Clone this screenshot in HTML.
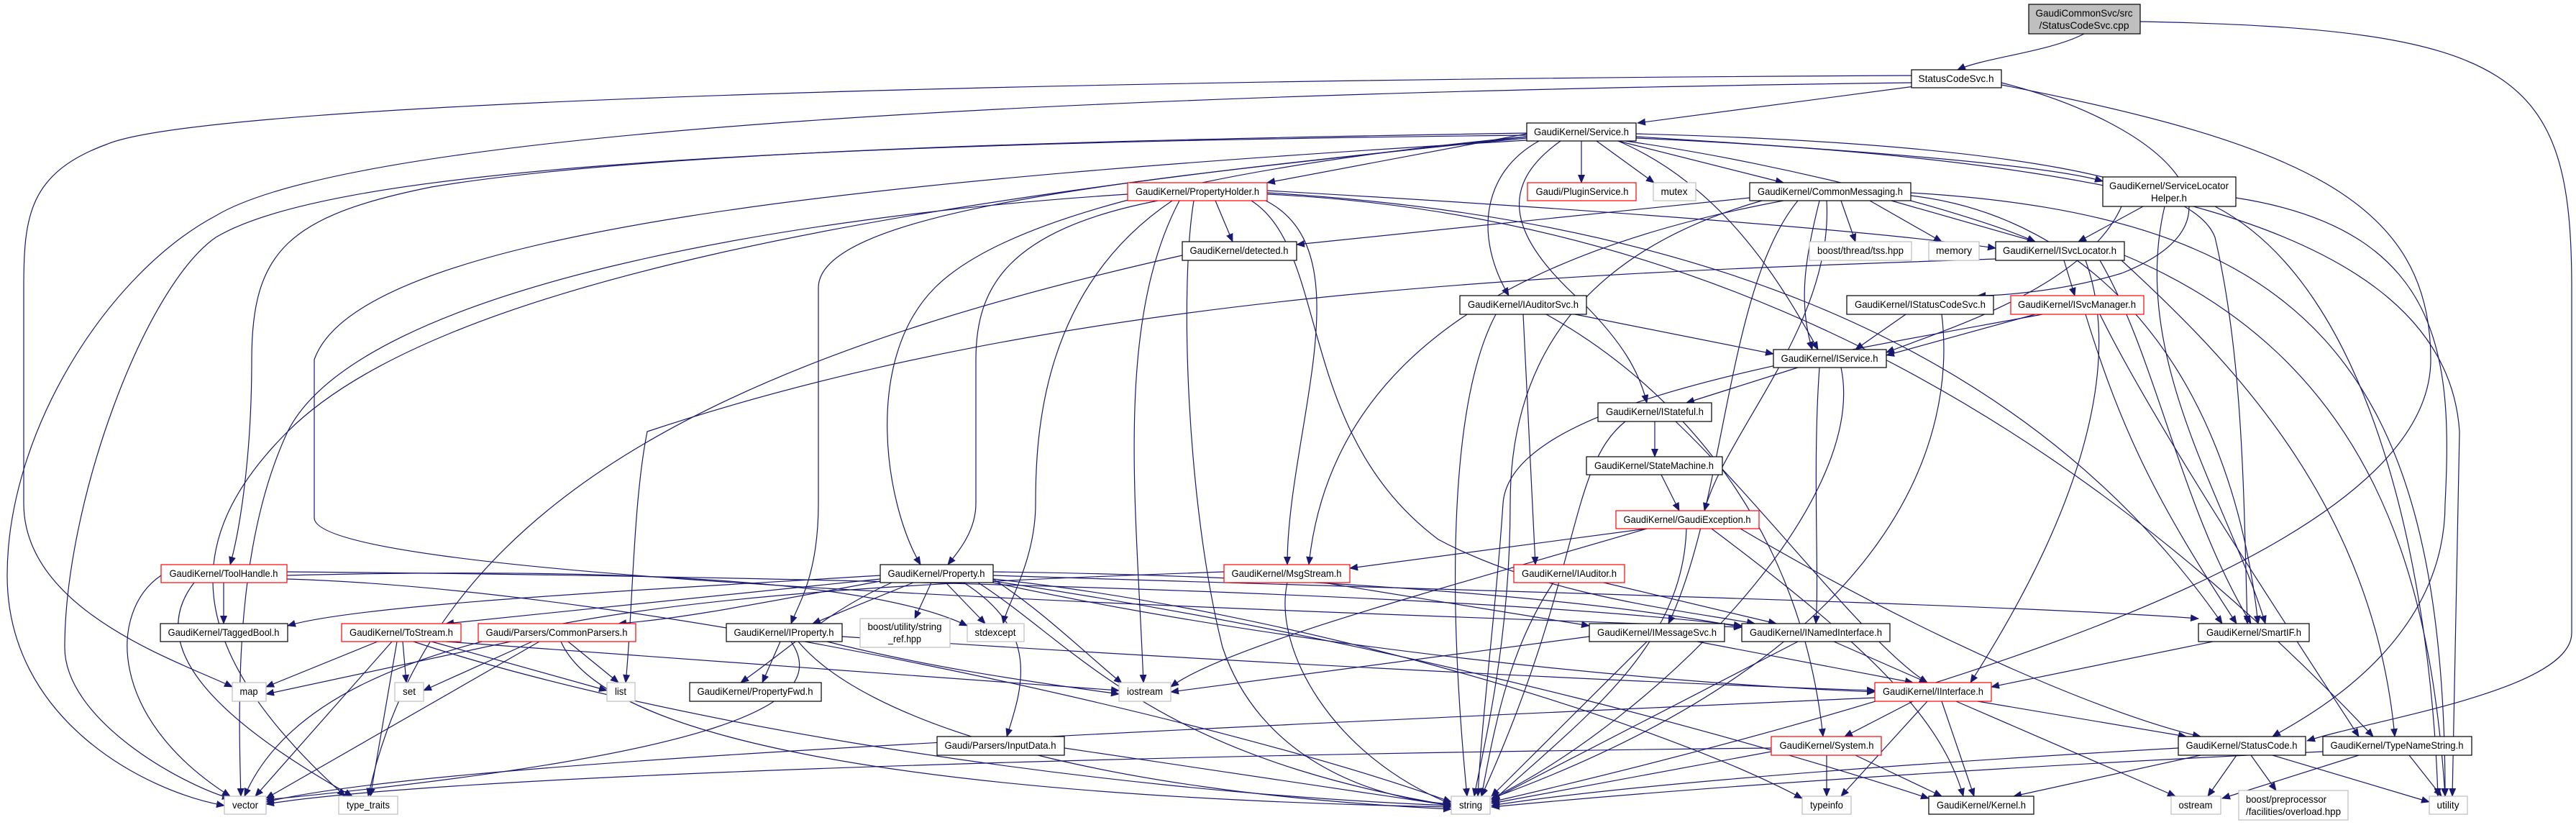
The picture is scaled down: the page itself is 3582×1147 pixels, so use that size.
<!DOCTYPE html>
<html><head><meta charset="utf-8"><style>
html,body{margin:0;padding:0;background:#fff}
svg{display:block}
text{font-family:"Liberation Sans",sans-serif;font-size:14px;fill:#000}
.e path{fill:none;stroke:#191970;stroke-width:1.2}
.n{fill:#fff;stroke:#000;stroke-width:1.2}
.r{fill:#fff;stroke:#f00;stroke-width:1.2}
.g{fill:#fff;stroke:#bfbfbf;stroke-width:1.2}
</style></head><body>
<svg width="3582" height="1147" viewBox="0 0 3582 1147" xmlns="http://www.w3.org/2000/svg">
<defs><marker id="a" markerUnits="userSpaceOnUse" markerWidth="12" markerHeight="10" refX="11" refY="5" orient="auto"><path d="M0,0 L12,5 L0,10 z" fill="#191970"/></marker></defs>
<g class="e" marker-end="url(#a)">
<path marker-end="url(#a)" d="M2898 47 C2850 72 2760 80 2722 97"/>
<path marker-end="url(#a)" d="M2976 30 C3500 40 3576 100 3576 400 L3576 880 C3576 960 3300 1000 3208 1030"/>
<path marker-end="url(#a)" d="M2670 119 L2277 171"/>
<path marker-end="url(#a)" d="M2658 105 C1500 110 300 140 150 200 C40 240 33 300 33 400 L33 700 C33 850 250 920 323 955"/>
<path marker-end="url(#a)" d="M2658 115 C1500 130 500 180 300 300 C150 380 10 600 10 800 C10 1000 200 1100 312 1120"/>
<path marker-end="url(#a)" d="M2783 115 C3000 170 3150 300 2950 380 C2850 410 2760 411 2750 411"/>
<path marker-end="url(#a)" d="M2783 118 C3200 200 3380 280 3380 500 C3380 700 3000 900 2074 1115"/>
<path marker-end="url(#a)" d="M2199 196 L2199 254"/>
<path marker-end="url(#a)" d="M2220 196 L2300 254"/>
<path marker-end="url(#a)" d="M2250 196 L2480 254"/>
<path marker-end="url(#a)" d="M2275 190 C2600 210 2850 230 2924 252"/>
<path marker-end="url(#a)" d="M2260 196 C2500 230 2750 300 2830 336"/>
<path marker-end="url(#a)" d="M2140 196 C2060 240 2050 330 2098 411"/>
<path marker-end="url(#a)" d="M2250 196 C2400 260 2480 400 2528 486"/>
<path marker-end="url(#a)" d="M2170 196 C2080 260 2100 330 2200 420 C2260 480 2280 520 2290 560"/>
<path marker-end="url(#a)" d="M2123 186 L1762 254"/>
<path marker-end="url(#a)" d="M2123 190 C1700 230 1400 300 1300 400 C1200 500 1230 700 1280 785"/>
<path marker-end="url(#a)" d="M2123 185 C1500 195 900 210 600 260 C400 300 350 350 350 500 C350 650 330 750 320 785"/>
<path marker-end="url(#a)" d="M2123 190 C1700 240 1138 280 1138 400 L1138 700 C1138 800 1110 840 1100 867"/>
<path marker-end="url(#a)" d="M2275 186 C2800 200 3050 250 3080 330 C3120 500 3120 700 3125 867"/>
<path marker-end="url(#a)" d="M2123 188 C1000 200 450 240 300 330 C200 400 90 700 90 900 C90 1000 250 1090 320 1110"/>
<path marker-end="url(#a)" d="M2123 192 C1200 280 600 400 400 600 C250 750 250 900 480 1107"/>
<path marker-end="url(#a)" d="M2123 195 C1200 250 500 320 437 500 L437 720 C437 800 1500 840 2422 872"/>
<path marker-end="url(#a)" d="M2275 192 C2900 220 3400 300 3420 600 L3410 1107"/>
<path marker-end="url(#a)" d="M1690 279 L1714 336"/>
<path marker-end="url(#a)" d="M1610 279 C1400 320 1357 400 1357 500 L1357 700 C1357 740 1330 770 1318 785"/>
<path marker-end="url(#a)" d="M1760 279 C1900 350 1790 600 1790 785"/>
<path marker-end="url(#a)" d="M1660 279 C1640 400 1650 700 1700 900 C1750 1050 1900 1110 2018 1118"/>
<path marker-end="url(#a)" d="M1640 279 C1550 450 1580 700 1590 949"/>
<path marker-end="url(#a)" d="M1630 279 C1450 400 1440 600 1440 700 C1440 780 1400 840 1395 867"/>
<path marker-end="url(#a)" d="M1568 270 C1100 300 500 400 400 600 C330 750 330 950 335 1107"/>
<path marker-end="url(#a)" d="M1762 265 C2200 290 2600 320 2775 345"/>
<path marker-end="url(#a)" d="M1740 279 C1850 350 1800 600 2000 750 C2150 830 2350 850 2440 867"/>
<path marker-end="url(#a)" d="M1762 270 C2400 300 2900 600 3300 1024"/>
<path marker-end="url(#a)" d="M1762 268 C2300 300 2800 450 3090 867"/>
<path marker-end="url(#a)" d="M1644 355 C1000 500 600 700 512 1107"/>
<path marker-end="url(#a)" d="M2433 275 L1803 340"/>
<path marker-end="url(#a)" d="M2560 279 L2580 336"/>
<path marker-end="url(#a)" d="M2600 279 L2700 336"/>
<path marker-end="url(#a)" d="M2630 279 L2830 336"/>
<path marker-end="url(#a)" d="M2530 279 C2510 360 2500 420 2520 486"/>
<path marker-end="url(#a)" d="M2500 279 C2400 400 2400 700 2320 867"/>
<path marker-end="url(#a)" d="M2480 279 C2100 350 1850 500 1820 785"/>
<path marker-end="url(#a)" d="M2540 279 C2550 450 2400 600 2370 710"/>
<path marker-end="url(#a)" d="M2657 272 C2900 300 3100 500 3140 867"/>
<path marker-end="url(#a)" d="M2657 268 C3200 300 3400 500 3400 1107"/>
<path marker-end="url(#a)" d="M2450 279 C2200 350 2100 500 2100 700 C2100 900 2060 1050 2050 1107"/>
<path marker-end="url(#a)" d="M2980 287 L2890 336"/>
<path marker-end="url(#a)" d="M2950 287 C2900 400 2700 460 2623 490"/>
<path marker-end="url(#a)" d="M3010 287 C2960 500 3100 700 3150 867"/>
<path marker-end="url(#a)" d="M3109 275 C3400 320 3410 500 3400 700 C3400 900 3200 1000 3160 1024"/>
<path marker-end="url(#a)" d="M3080 287 C3300 400 3380 800 3390 1107"/>
<path marker-end="url(#a)" d="M2870 362 L2885 411"/>
<path marker-end="url(#a)" d="M2920 362 C3000 500 3030 700 3130 867"/>
<path marker-end="url(#a)" d="M2900 362 C2950 500 2900 700 2740 949"/>
<path marker-end="url(#a)" d="M2950 362 C3100 500 3300 700 3330 1024"/>
<path marker-end="url(#a)" d="M2954 355 C3300 500 3380 800 3400 1107"/>
<path marker-end="url(#a)" d="M2775 360 C2200 380 1500 400 900 600 C880 700 880 850 870 949"/>
<path marker-end="url(#a)" d="M2190 437 L2466 492"/>
<path marker-end="url(#a)" d="M2118 437 L2135 785"/>
<path marker-end="url(#a)" d="M2080 437 C2020 550 2010 800 2040 1107"/>
<path marker-end="url(#a)" d="M2150 437 C2300 520 2500 700 2535 1024"/>
<path marker-end="url(#a)" d="M2650 437 L2580 486"/>
<path marker-end="url(#a)" d="M2700 437 C2720 600 2650 900 2074 1110"/>
<path marker-end="url(#a)" d="M2830 437 L2623 494"/>
<path marker-end="url(#a)" d="M2900 437 C2950 600 3000 700 3110 867"/>
<path marker-end="url(#a)" d="M2920 437 C3000 600 3200 900 3280 1024"/>
<path marker-end="url(#a)" d="M2840 437 C2500 500 2100 560 2090 700 C2080 850 2060 1000 2055 1107"/>
<path marker-end="url(#a)" d="M2500 511 L2345 560"/>
<path marker-end="url(#a)" d="M2530 511 C2520 650 2530 800 2525 867"/>
<path marker-end="url(#a)" d="M2560 511 C2600 700 2300 1000 2074 1110"/>
<path marker-end="url(#a)" d="M2301 586 L2301 635"/>
<path marker-end="url(#a)" d="M2260 586 C2180 650 2200 800 2060 1107"/>
<path marker-end="url(#a)" d="M2330 586 C2450 700 2600 900 2680 949"/>
<path marker-end="url(#a)" d="M2310 660 L2335 710"/>
<path marker-end="url(#a)" d="M2290 735 L1877 790"/>
<path marker-end="url(#a)" d="M2290 735 C2000 820 1700 900 1628 955"/>
<path marker-end="url(#a)" d="M2345 735 C2340 900 2200 1000 2074 1115"/>
<path marker-end="url(#a)" d="M2420 735 C2700 900 2950 1000 3060 1024"/>
<path marker-end="url(#a)" d="M2380 735 C2600 900 2700 1000 2730 1107"/>
<path marker-end="url(#a)" d="M311 810 L311 867"/>
<path marker-end="url(#a)" d="M224 800 C150 850 150 1000 320 1107"/>
<path marker-end="url(#a)" d="M270 810 C200 900 300 1000 490 1107"/>
<path marker-end="url(#a)" d="M399 795 C1000 800 2000 820 2422 870"/>
<path marker-end="url(#a)" d="M399 800 C800 790 1200 800 1345 870"/>
<path marker-end="url(#a)" d="M399 805 C900 820 1700 1000 2018 1115"/>
<path marker-end="url(#a)" d="M1224 800 C900 820 500 840 400 870"/>
<path marker-end="url(#a)" d="M1224 805 C900 840 700 860 620 867"/>
<path marker-end="url(#a)" d="M1224 808 C1050 840 950 860 860 867"/>
<path marker-end="url(#a)" d="M1270 810 L1130 867"/>
<path marker-end="url(#a)" d="M1295 810 L1272 860"/>
<path marker-end="url(#a)" d="M1315 810 L1370 867"/>
<path marker-end="url(#a)" d="M1240 810 C1150 850 1100 900 1030 949"/>
<path marker-end="url(#a)" d="M1340 810 C1450 880 1420 960 1400 1024"/>
<path marker-end="url(#a)" d="M1360 810 C1500 900 1600 1050 2018 1120"/>
<path marker-end="url(#a)" d="M1381 805 C1800 850 2300 1000 2506 1110"/>
<path marker-end="url(#a)" d="M1381 808 C2000 900 2500 1050 2682 1110"/>
<path marker-end="url(#a)" d="M1381 795 C1800 800 2200 830 2422 872"/>
<path marker-end="url(#a)" d="M1381 800 C2000 820 2800 840 3057 860"/>
<path marker-end="url(#a)" d="M1381 810 C1800 900 2300 950 2607 962"/>
<path marker-end="url(#a)" d="M1381 805 C1450 850 1500 900 1560 950"/>
<path marker-end="url(#a)" d="M1840 810 L2210 870"/>
<path marker-end="url(#a)" d="M1702 795 C1000 820 450 850 340 1107"/>
<path marker-end="url(#a)" d="M1790 810 C1770 900 1850 1050 2018 1118"/>
<path marker-end="url(#a)" d="M2230 810 L2470 867"/>
<path marker-end="url(#a)" d="M2160 810 C2100 900 2080 1000 2060 1107"/>
<path marker-end="url(#a)" d="M525 892 L370 955"/>
<path marker-end="url(#a)" d="M560 892 L565 949"/>
<path marker-end="url(#a)" d="M600 892 L844 960"/>
<path marker-end="url(#a)" d="M545 892 L355 1107"/>
<path marker-end="url(#a)" d="M552 892 L515 1107"/>
<path marker-end="url(#a)" d="M575 892 C900 1000 1500 1100 2018 1120"/>
<path marker-end="url(#a)" d="M620 892 C1000 920 1300 940 1556 960"/>
<path marker-end="url(#a)" d="M710 892 L370 965"/>
<path marker-end="url(#a)" d="M740 892 L589 960"/>
<path marker-end="url(#a)" d="M790 892 L860 949"/>
<path marker-end="url(#a)" d="M750 892 L370 1110"/>
<path marker-end="url(#a)" d="M780 892 C850 1050 1400 1110 2018 1122"/>
<path marker-end="url(#a)" d="M1085 892 L1060 949"/>
<path marker-end="url(#a)" d="M1150 892 C1300 930 1450 950 1556 965"/>
<path marker-end="url(#a)" d="M1110 892 C1200 1000 1500 1100 2018 1125"/>
<path marker-end="url(#a)" d="M1171 885 C1700 920 2300 950 2607 960"/>
<path marker-end="url(#a)" d="M1100 892 C1160 980 1000 1050 370 1112"/>
<path marker-end="url(#a)" d="M2360 892 L2660 949"/>
<path marker-end="url(#a)" d="M2290 892 L2074 1107"/>
<path marker-end="url(#a)" d="M2210 885 L1628 962"/>
<path marker-end="url(#a)" d="M2550 892 L2680 949"/>
<path marker-end="url(#a)" d="M2500 892 L2074 1112"/>
<path marker-end="url(#a)" d="M3077 892 L2769 955"/>
<path marker-end="url(#a)" d="M2660 975 L2565 1024"/>
<path marker-end="url(#a)" d="M2750 975 L3040 1024"/>
<path marker-end="url(#a)" d="M2680 975 L2560 1107"/>
<path marker-end="url(#a)" d="M2720 975 L3025 1107"/>
<path marker-end="url(#a)" d="M2700 975 L2745 1107"/>
<path marker-end="url(#a)" d="M2607 970 C1500 1020 600 1060 370 1115"/>
<path marker-end="url(#a)" d="M1480 1040 L2018 1120"/>
<path marker-end="url(#a)" d="M2540 1050 L2540 1107"/>
<path marker-end="url(#a)" d="M2580 1050 L2700 1107"/>
<path marker-end="url(#a)" d="M2463 1045 L2074 1117"/>
<path marker-end="url(#a)" d="M2463 1040 C1500 1050 600 1080 370 1118"/>
<path marker-end="url(#a)" d="M3060 1050 L2800 1107"/>
<path marker-end="url(#a)" d="M3110 1050 L3070 1107"/>
<path marker-end="url(#a)" d="M3130 1050 L3165 1099"/>
<path marker-end="url(#a)" d="M3160 1050 L3378 1115"/>
<path marker-end="url(#a)" d="M3029 1040 C2500 1070 2200 1100 2074 1120"/>
<path marker-end="url(#a)" d="M3280 1050 L3090 1110"/>
<path marker-end="url(#a)" d="M3350 1050 L3395 1107"/>
<path marker-end="url(#a)" d="M3230 1045 C2700 1070 2300 1100 2074 1122"/>
</g>
<g text-anchor="middle" lengthAdjust="spacingAndGlyphs">
<rect x="2821" y="6" width="155" height="41" fill="#bfbfbf" stroke="#000" stroke-width="1.2"/>
<text x="2898" y="23" textLength="135" lengthAdjust="spacingAndGlyphs">GaudiCommonSvc/src</text>
<text x="2898" y="40" textLength="125" lengthAdjust="spacingAndGlyphs">/StatusCodeSvc.cpp</text>

<rect class="n" x="2658" y="97" width="125" height="25"/><text x="2720" y="114" textLength="105" lengthAdjust="spacingAndGlyphs">StatusCodeSvc.h</text>
<rect class="n" x="2123" y="171" width="152" height="25"/><text x="2199" y="188" textLength="132" lengthAdjust="spacingAndGlyphs">GaudiKernel/Service.h</text>
<rect class="r" x="2124" y="254" width="151" height="25"/><text x="2200" y="271" textLength="129" lengthAdjust="spacingAndGlyphs">Gaudi/PluginService.h</text>
<rect class="g" x="2299" y="254" width="59" height="25"/><text x="2328" y="271" textLength="37" lengthAdjust="spacingAndGlyphs">mutex</text>
<rect class="n" x="2433" y="254" width="224" height="25"/><text x="2545" y="271" textLength="202" lengthAdjust="spacingAndGlyphs">GaudiKernel/CommonMessaging.h</text>
<rect class="n" x="2924" y="246" width="185" height="41"/><text x="3016" y="263" textLength="166" lengthAdjust="spacingAndGlyphs">GaudiKernel/ServiceLocator</text><text x="3016" y="280" textLength="50" lengthAdjust="spacingAndGlyphs">Helper.h</text>
<rect class="r" x="1568" y="254" width="194" height="25"/><text x="1665" y="271" textLength="172" lengthAdjust="spacingAndGlyphs">GaudiKernel/PropertyHolder.h</text>
<rect class="g" x="2516" y="336" width="142" height="26"/><text x="2587" y="353" textLength="120" lengthAdjust="spacingAndGlyphs">boost/thread/tss.hpp</text>
<rect class="g" x="2682" y="336" width="70" height="26"/><text x="2717" y="353" textLength="50" lengthAdjust="spacingAndGlyphs">memory</text>
<rect class="n" x="2775" y="336" width="179" height="26"/><text x="2864" y="353" textLength="158" lengthAdjust="spacingAndGlyphs">GaudiKernel/ISvcLocator.h</text>
<rect class="n" x="1644" y="336" width="159" height="26"/><text x="1723" y="353" textLength="137" lengthAdjust="spacingAndGlyphs">GaudiKernel/detected.h</text>
<rect class="n" x="2030" y="411" width="176" height="26"/><text x="2118" y="428" textLength="154" lengthAdjust="spacingAndGlyphs">GaudiKernel/IAuditorSvc.h</text>
<rect class="n" x="2568" y="411" width="204" height="26"/><text x="2670" y="428" textLength="182" lengthAdjust="spacingAndGlyphs">GaudiKernel/IStatusCodeSvc.h</text>
<rect class="r" x="2796" y="411" width="185" height="26"/><text x="2888" y="428" textLength="164" lengthAdjust="spacingAndGlyphs">GaudiKernel/ISvcManager.h</text>
<rect class="n" x="2466" y="486" width="157" height="25"/><text x="2544" y="503" textLength="135" lengthAdjust="spacingAndGlyphs">GaudiKernel/IService.h</text>
<rect class="n" x="2222" y="560" width="158" height="26"/><text x="2301" y="577" textLength="136" lengthAdjust="spacingAndGlyphs">GaudiKernel/IStateful.h</text>
<rect class="n" x="2206" y="635" width="189" height="25"/><text x="2300" y="652" textLength="166" lengthAdjust="spacingAndGlyphs">GaudiKernel/StateMachine.h</text>
<rect class="r" x="2247" y="710" width="199" height="25"/><text x="2346" y="727" textLength="177" lengthAdjust="spacingAndGlyphs">GaudiKernel/GaudiException.h</text>
<rect class="r" x="224" y="785" width="175" height="25"/><text x="311" y="802" textLength="151" lengthAdjust="spacingAndGlyphs">GaudiKernel/ToolHandle.h</text>
<rect class="n" x="1224" y="785" width="157" height="25"/><text x="1302" y="802" textLength="135" lengthAdjust="spacingAndGlyphs">GaudiKernel/Property.h</text>
<rect class="r" x="1702" y="785" width="175" height="25"/><text x="1789" y="802" textLength="153" lengthAdjust="spacingAndGlyphs">GaudiKernel/MsgStream.h</text>
<rect class="r" x="2105" y="785" width="154" height="25"/><text x="2182" y="802" textLength="132" lengthAdjust="spacingAndGlyphs">GaudiKernel/IAuditor.h</text>
<rect class="n" x="223" y="867" width="177" height="25"/><text x="311" y="884" textLength="155" lengthAdjust="spacingAndGlyphs">GaudiKernel/TaggedBool.h</text>
<rect class="r" x="475" y="867" width="166" height="25"/><text x="558" y="884" textLength="144" lengthAdjust="spacingAndGlyphs">GaudiKernel/ToStream.h</text>
<rect class="r" x="665" y="867" width="219" height="25"/><text x="774" y="884" textLength="197" lengthAdjust="spacingAndGlyphs">Gaudi/Parsers/CommonParsers.h</text>
<rect class="n" x="1010" y="867" width="161" height="25"/><text x="1090" y="884" textLength="139" lengthAdjust="spacingAndGlyphs">GaudiKernel/IProperty.h</text>
<rect class="g" x="1196" y="860" width="125" height="40"/><text x="1258" y="876" textLength="103" lengthAdjust="spacingAndGlyphs">boost/utility/string</text><text x="1258" y="893" textLength="46" lengthAdjust="spacingAndGlyphs">_ref.hpp</text>
<rect class="g" x="1345" y="867" width="79" height="25"/><text x="1384" y="884" textLength="57" lengthAdjust="spacingAndGlyphs">stdexcept</text>
<rect class="n" x="2210" y="867" width="188" height="25"/><text x="2304" y="884" textLength="166" lengthAdjust="spacingAndGlyphs">GaudiKernel/IMessageSvc.h</text>
<rect class="n" x="2422" y="867" width="206" height="25"/><text x="2525" y="884" textLength="184" lengthAdjust="spacingAndGlyphs">GaudiKernel/INamedInterface.h</text>
<rect class="n" x="3057" y="867" width="154" height="25"/><text x="3134" y="884" textLength="132" lengthAdjust="spacingAndGlyphs">GaudiKernel/SmartIF.h</text>
<rect class="g" x="323" y="949" width="47" height="26"/><text x="346" y="966" textLength="25" lengthAdjust="spacingAndGlyphs">map</text>
<rect class="g" x="549" y="949" width="40" height="26"/><text x="569" y="966" textLength="18" lengthAdjust="spacingAndGlyphs">set</text>
<rect class="g" x="844" y="949" width="39" height="26"/><text x="863" y="966" textLength="16" lengthAdjust="spacingAndGlyphs">list</text>
<rect class="n" x="959" y="949" width="183" height="26"/><text x="1050" y="966" textLength="161" lengthAdjust="spacingAndGlyphs">GaudiKernel/PropertyFwd.h</text>
<rect class="g" x="1556" y="949" width="72" height="26"/><text x="1592" y="966" textLength="50" lengthAdjust="spacingAndGlyphs">iostream</text>
<rect class="r" x="2607" y="949" width="162" height="26"/><text x="2688" y="966" textLength="140" lengthAdjust="spacingAndGlyphs">GaudiKernel/IInterface.h</text>
<rect class="n" x="1303" y="1024" width="177" height="26"/><text x="1391" y="1041" textLength="155" lengthAdjust="spacingAndGlyphs">Gaudi/Parsers/InputData.h</text>
<rect class="r" x="2463" y="1024" width="153" height="26"/><text x="2540" y="1041" textLength="131" lengthAdjust="spacingAndGlyphs">GaudiKernel/System.h</text>
<rect class="n" x="3029" y="1024" width="177" height="26"/><text x="3117" y="1041" textLength="155" lengthAdjust="spacingAndGlyphs">GaudiKernel/StatusCode.h</text>
<rect class="n" x="3230" y="1024" width="207" height="26"/><text x="3333" y="1041" textLength="185" lengthAdjust="spacingAndGlyphs">GaudiKernel/TypeNameString.h</text>
<rect class="g" x="312" y="1107" width="58" height="25"/><text x="341" y="1124" textLength="36" lengthAdjust="spacingAndGlyphs">vector</text>
<rect class="g" x="471" y="1107" width="82" height="25"/><text x="512" y="1124" textLength="60" lengthAdjust="spacingAndGlyphs">type_traits</text>
<rect class="g" x="2018" y="1107" width="54" height="25"/><text x="2045" y="1124" textLength="32" lengthAdjust="spacingAndGlyphs">string</text>
<rect class="g" x="2506" y="1107" width="68" height="25"/><text x="2540" y="1124" textLength="46" lengthAdjust="spacingAndGlyphs">typeinfo</text>
<rect class="n" x="2682" y="1107" width="146" height="25"/><text x="2755" y="1124" textLength="124" lengthAdjust="spacingAndGlyphs">GaudiKernel/Kernel.h</text>
<rect class="g" x="3019" y="1107" width="69" height="25"/><text x="3053" y="1124" textLength="47" lengthAdjust="spacingAndGlyphs">ostream</text>
<rect class="g" x="3113" y="1099" width="152" height="41"/><text x="3123" y="1116" text-anchor="start" textLength="112" lengthAdjust="spacingAndGlyphs">boost/preprocessor</text><text x="3123" y="1133" text-anchor="start" textLength="132" lengthAdjust="spacingAndGlyphs">/facilities/overload.hpp</text>
<rect class="g" x="3378" y="1107" width="53" height="25"/><text x="3404" y="1124" textLength="31" lengthAdjust="spacingAndGlyphs">utility</text>
</g>
</svg>
</body></html>
